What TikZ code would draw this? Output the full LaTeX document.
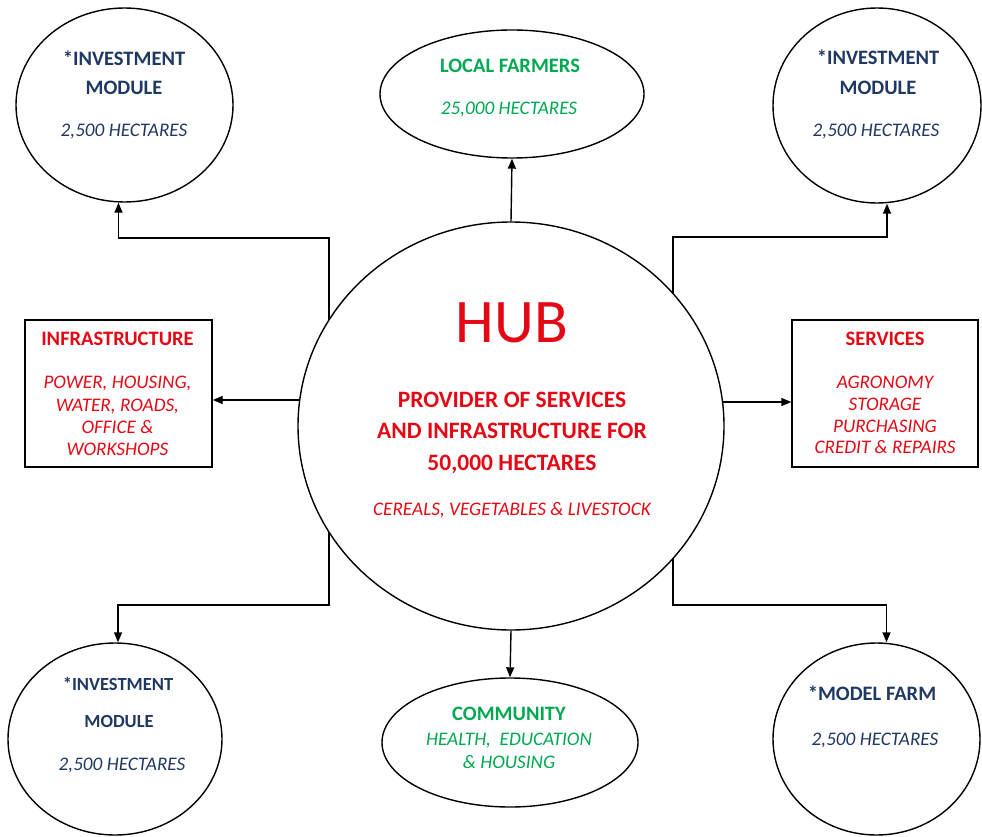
\documentclass[tikz,border=0pt]{standalone}
\usepackage{fontspec}
\setmainfont{Carlito}
\usetikzlibrary{shapes.geometric,arrows.meta,calc}
\definecolor{navy}{RGB}{31,56,100}
\definecolor{grn}{RGB}{0,168,80}
\definecolor{rd}{RGB}{228,8,20}
\begin{document}
\begin{tikzpicture}[x=1pt,y=-1pt,
  oval/.style={draw=black,line width=1.4pt,ellipse,inner sep=0pt},
  boxshape/.style={draw=black,line width=1.4pt,rectangle,inner sep=0pt},
  arr/.style={line width=1.4pt,-{Triangle[length=10pt,width=8pt]}},
  lbl/.style={anchor=base,inner sep=0pt},
  bt/.style={lbl,font=\fontsize{20.5}{24}\selectfont\bfseries},
  btsmall/.style={lbl,font=\fontsize{18.5}{22}\selectfont\bfseries},
  it/.style={lbl,font=\fontsize{19.2}{23}\selectfont\itshape},
  hubbt/.style={lbl,font=\fontsize{23.5}{26}\selectfont\bfseries,text=rd},
]
\useasboundingbox (0,0) rectangle (982,837);

% shapes
\node[oval,minimum width=217,minimum height=194] (tl) at (124.5,105) {};
\node[oval,minimum width=264,minimum height=128] (lf) at (512,94) {};
\node[oval,minimum width=208,minimum height=195] (tr) at (877,105.5) {};
\node[oval,minimum width=426,minimum height=408] (hub) at (511,426) {};
\node[boxshape,minimum width=187,minimum height=147] (infra) at (118.5,393.5) {};
\node[boxshape,minimum width=186,minimum height=147] (serv) at (885,393.5) {};
\node[oval,minimum width=214,minimum height=192] (bl) at (115,739) {};
\node[oval,minimum width=256,minimum height=129] (com) at (510,742.5) {};
\node[oval,minimum width=207,minimum height=192] (br) at (876.5,739) {};

% connectors
\draw[arr] ($(hub.center)+(-182,-106)$) -- ++(0,-82) -| ($(tl.south)+(-6,0)$);
\draw[arr] ($(hub.center)+(162,-133)$) -- ++(0,-56) -| ($(tr.south)+(10,0)$);
\draw[arr] ($(hub.center)+(-182,106)$) -- ++(0,73) -| ($(bl.north)+(3,0)$);
\draw[arr] ($(hub.center)+(162,133)$) -- ++(0,46) -| ($(br.north)+(10,0)$);
\draw[arr] (hub.north) -- (lf.south);
\draw[arr] (hub.south) -- (com.north);
\coordinate (hl) at ($(hub.center)+(-211,-26)$);
\coordinate (hr) at ($(hub.center)+(211.5,-24)$);
\draw[arr] (hl) -- (hl -| infra.east);
\draw[arr] (hr) -- (hr -| serv.west);

% texts: top left
\node[bt,text=navy] (tl1) at (124,66) {*INVESTMENT};
\node[bt,text=navy] (tl2) at (124,95) {MODULE};
\node[it,text=navy] (tl3) at (124,137) {2,500 HECTARES};
% top right
\node[bt,text=navy] (tr1) at (878,65) {*INVESTMENT};
\node[bt,text=navy] (tr2) at (878,95) {MODULE};
\node[it,text=navy] (tr3) at (876,137) {2,500 HECTARES};
% local farmers
\node[bt,text=grn] (lf1) at (510,73) {LOCAL FARMERS};
\node[it,text=grn] (lf2) at (509,115) {25,000 HECTARES};
% infrastructure
\node[bt,text=rd] (in1) at (117.5,345) {INFRASTRUCTURE};
\node[it,text=rd] (in2) at (117.5,388) {POWER, HOUSING,};
\node[it,text=rd] (in3) at (117.5,411) {WATER, ROADS,};
\node[it,text=rd] (in4) at (117.5,433) {OFFICE \&};
\node[it,text=rd] (in5) at (117.5,455) {WORKSHOPS};
% services
\node[bt,text=rd] (sv1) at (885,345) {SERVICES};
\node[it,text=rd] (sv2) at (885,388) {AGRONOMY};
\node[it,text=rd] (sv3) at (885,410) {STORAGE};
\node[it,text=rd] (sv4) at (885,432) {PURCHASING};
\node[it,text=rd] (sv5) at (885,453) {CREDIT \& REPAIRS};
% hub
\node[lbl,font=\fontsize{62}{64}\selectfont,text=rd] (h0) at (512,342) {HUB};
\node[hubbt] (h1) at (512,407) {PROVIDER OF SERVICES};
\node[hubbt] (h2) at (512,438) {AND INFRASTRUCTURE FOR};
\node[hubbt] (h3) at (512,470) {50,000 HECTARES};
\node[it,text=rd] (h4) at (512,515) {CEREALS, VEGETABLES \& LIVESTOCK};
% bottom left
\node[btsmall,text=navy] (bl1) at (118,690) {*INVESTMENT};
\node[btsmall,text=navy] (bl2) at (119,727) {MODULE};
\node[it,text=navy] (bl3) at (122,770) {2,500 HECTARES};
% community
\node[bt,text=grn] (cm1) at (509,720) {COMMUNITY};
\node[it,text=grn] (cm2) at (509,745) {HEALTH,\ \ EDUCATION};
\node[it,text=grn] (cm3) at (509,768) {\& HOUSING};
% model farm
\node[bt,text=navy] (br1) at (872,700) {*MODEL FARM};
\node[it,text=navy] (br2) at (875,745) {2,500 HECTARES};
\end{tikzpicture}
\end{document}
